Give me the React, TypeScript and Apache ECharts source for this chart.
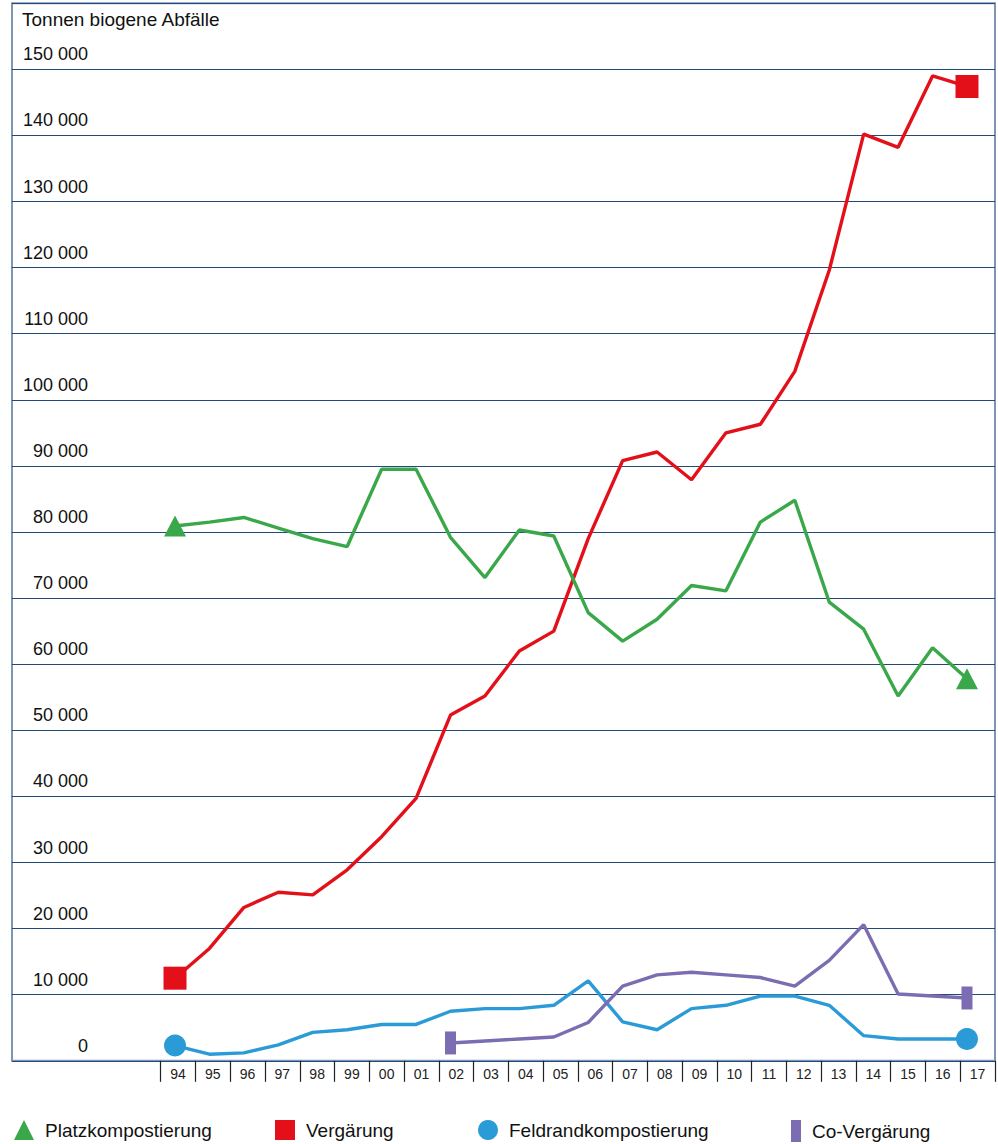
import React, { useEffect, useRef } from 'react';
import * as echarts from 'echarts';

const categories = ['94', '95', '96', '97', '98', '99', '00', '01', '02', '03', '04', '05', '06', '07', '08', '09', '10', '11', '12', '13', '14', '15', '16', '17'];

const yTicks = [0, 10000, 20000, 30000, 40000, 50000, 60000, 70000, 80000, 90000, 100000, 110000, 120000, 130000, 140000, 150000];

const platz = [80900, 81500, 82200, 80600, 79000, 77800, 89500, 89500, 79200, 73100, 80300, 79400, 67800, 63500, 66800, 71900, 71100, 81500, 84800, 69400, 65300, 55200, 62500, 57800];
const vergaerung = [12500, 17000, 23200, 25500, 25100, 28900, 33900, 39700, 52300, 55200, 62000, 65000, 79000, 90800, 92100, 87900, 95000, 96300, 104300, 119600, 140200, 138200, 149000, 147400];
const feldrand = [2300, 1000, 1200, 2400, 4300, 4700, 5500, 5500, 7500, 7900, 7900, 8400, 12100, 5900, 4700, 7900, 8400, 9800, 9800, 8400, 3800, 3300, 3300, 3300];
const coVergaerung = [null, null, null, null, null, null, null, null, 2700, 3000, 3300, 3600, 5800, 11300, 13000, 13400, 13000, 12600, 11300, 15200, 20600, 10100, 9800, 9500];

const FONT = '"Liberation Sans", Arial, Helvetica, sans-serif';
const GREEN = '#3aa84a';
const RED = '#e31019';
const BLUE = '#2b9bd7';
const PURPLE = '#7c6db2';

function endSymbol(shape: string, data: (number | null)[]) {
  const idx = data.map((v, i) => (v == null ? -1 : i)).filter((i) => i >= 0);
  const first = idx[0];
  const last = idx[idx.length - 1];
  return (_v: any, p: any) => (p.dataIndex === first || p.dataIndex === last ? shape : 'none');
}

function fmt(v: number) {
  if (!yTicks.includes(v)) return '';
  return String(v).replace(/\B(?=(\d{3})+(?!\d))/g, ' ');
}

export default function App() {
  const ref = useRef<HTMLDivElement>(null);
  useEffect(() => {
    if (!ref.current) return;
    const chart = echarts.init(ref.current, null, { renderer: 'svg' });
    const top = 3.2;
    const bottom = 83.2;
    const lineSeries = (name: string, data: (number | null)[], color: string, shape: string, size: any) => ({
      name,
      type: 'line',
      xAxisIndex: 2,
      yAxisIndex: 2,
      data,
      connectNulls: false,
      showAllSymbol: true,
      symbol: endSymbol(shape, data),
      symbolSize: size,
      lineStyle: { color, width: 3.4 },
      itemStyle: { color },
      emphasis: { disabled: true },
    });
    const legend = (name: string, icon: string, left: number, w: number, h: number) => ({
      data: [{ name, icon }],
      left,
      top: 1120,
      itemWidth: w,
      itemHeight: h,
      padding: 0,
      selectedMode: false,
      textStyle: { fontSize: 19, color: '#111', fontFamily: FONT, padding: [0, 0, 0, 6] },
    });
    chart.setOption({
      animation: false,
      backgroundColor: '#ffffff',
      title: {
        text: 'Tonnen biogene Abfälle',
        left: 22,
        top: 10,
        padding: 0,
        textStyle: { fontSize: 19, fontWeight: 'normal', color: '#111', fontFamily: FONT },
      },
      legend: [
        legend('Platzkompostierung', 'triangle', 14, 20, 20),
        legend('Vergärung', 'rect', 275, 20, 20),
        legend('Feldrandkompostierung', 'circle', 478, 20, 20),
        legend('Co-Vergärung', 'rect', 791, 10, 22),
      ],
      grid: [
        { left: 12, right: 3, top, bottom, show: true, borderColor: '#7d97b3', borderWidth: 2, backgroundColor: 'transparent' },
        { left: 160.7, right: 3, top, bottom },
        { left: 157.8, right: 13.8, top, bottom },
      ],
      xAxis: [
        { gridIndex: 0, type: 'category', data: categories, show: false },
        {
          gridIndex: 1,
          type: 'category',
          data: categories,
          boundaryGap: true,
          axisLine: { show: false },
          axisTick: { show: true, interval: 0, length: 21, lineStyle: { color: '#222', width: 1.2 } },
          axisLabel: { interval: 0, fontSize: 14, color: '#222', margin: 6, fontFamily: FONT },
          splitLine: { show: false },
        },
        { gridIndex: 2, type: 'category', data: categories, boundaryGap: true, show: false },
      ],
      yAxis: [
        {
          gridIndex: 0,
          type: 'value',
          min: 0,
          max: 160000,
          interval: 10000,
          axisLine: { show: false },
          axisTick: { show: false },
          splitLine: { show: true, lineStyle: { color: '#1f4a7a', width: 1.2 } },
          axisLabel: {
            inside: true,
            align: 'right',
            margin: 76,
            verticalAlign: 'bottom',
            lineHeight: 30,
            fontSize: 18,
            color: '#111',
            fontFamily: FONT,
            formatter: fmt,
          },
        },
        { gridIndex: 1, type: 'value', min: 0, max: 160000, show: false, splitLine: { show: false } },
        { gridIndex: 2, type: 'value', min: 0, max: 160000, show: false, splitLine: { show: false } },
      ],
      series: [
        lineSeries('Vergärung', vergaerung, RED, 'rect', 23),
        lineSeries('Platzkompostierung', platz, GREEN, 'triangle', [22, 21]),
        lineSeries('Feldrandkompostierung', feldrand, BLUE, 'circle', 22),
        lineSeries('Co-Vergärung', coVergaerung, PURPLE, 'rect', [11, 23]),
      ],
    });
    return () => chart.dispose();
  }, []);
  return <div ref={ref} style={{ position: 'absolute', left: 0, top: 0, width: 998, height: 1144 }} />;
}
